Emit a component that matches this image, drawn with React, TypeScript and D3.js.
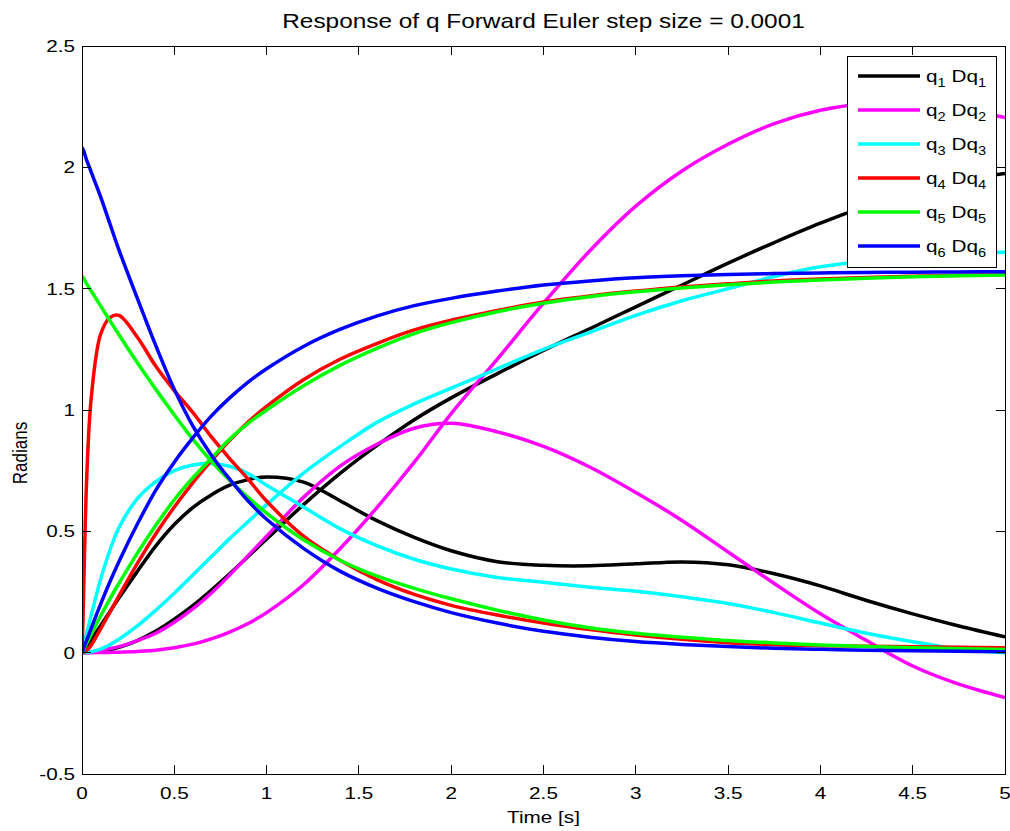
import React from 'react';
import * as d3 from 'd3';

// sample times [s] and the twelve responses
const time = [0, 0.0001, 0.025, 0.05, 0.1, 0.15, 0.2, 0.3, 0.4, 0.5, 0.6, 0.7, 0.8, 0.9, 1.0, 1.2, 1.4, 1.6, 1.8, 2.0, 2.25, 2.5, 2.75, 3.0, 3.25, 3.5, 3.75, 4.0, 4.25, 4.5, 4.75, 5.0];

const q1 = [0, 0, 0.0005, 0.0015, 0.005, 0.012, 0.022, 0.05, 0.089, 0.138, 0.194, 0.257, 0.325, 0.396, 0.468, 0.61, 0.74, 0.855, 0.96, 1.05, 1.15, 1.245, 1.335, 1.425, 1.515, 1.605, 1.69, 1.77, 1.84, 1.9, 1.945, 1.975];
const Dq1 = [0, 0, 0.028, 0.055, 0.11, 0.168, 0.225, 0.335, 0.44, 0.528, 0.598, 0.65, 0.69, 0.713, 0.724, 0.703, 0.625, 0.543, 0.475, 0.42, 0.375, 0.36, 0.358, 0.366, 0.374, 0.362, 0.325, 0.275, 0.215, 0.16, 0.11, 0.065];
const q2 = [0, 0, 0, 0, 0.0005, 0.001, 0.002, 0.005, 0.01, 0.02, 0.035, 0.057, 0.085, 0.12, 0.165, 0.28, 0.43, 0.6, 0.785, 0.985, 1.21, 1.44, 1.655, 1.84, 1.985, 2.095, 2.18, 2.235, 2.262, 2.26, 2.24, 2.205];
const Dq2 = [0, 0, 0.001, 0.003, 0.01, 0.017, 0.025, 0.05, 0.08, 0.125, 0.18, 0.245, 0.32, 0.4, 0.48, 0.64, 0.77, 0.86, 0.925, 0.945, 0.91, 0.85, 0.765, 0.66, 0.545, 0.415, 0.285, 0.16, 0.05, -0.055, -0.13, -0.185];
const q3 = [0, 0, 0.001, 0.004, 0.015, 0.032, 0.055, 0.11, 0.175, 0.245, 0.32, 0.395, 0.47, 0.54, 0.61, 0.74, 0.85, 0.95, 1.025, 1.09, 1.17, 1.25, 1.32, 1.39, 1.45, 1.5, 1.55, 1.59, 1.615, 1.635, 1.645, 1.65];
const Dq3 = [0, 0, 0.08, 0.155, 0.3, 0.42, 0.515, 0.635, 0.705, 0.75, 0.773, 0.78, 0.768, 0.738, 0.69, 0.6, 0.51, 0.44, 0.385, 0.345, 0.31, 0.29, 0.27, 0.253, 0.23, 0.203, 0.165, 0.122, 0.08, 0.045, 0.015, 0];
const q4 = [0, 0, 0.009, 0.031, 0.097, 0.165, 0.234, 0.368, 0.49, 0.6, 0.7, 0.79, 0.875, 0.95, 1.015, 1.125, 1.21, 1.275, 1.33, 1.37, 1.41, 1.445, 1.47, 1.49, 1.507, 1.52, 1.532, 1.54, 1.546, 1.551, 1.555, 1.558];
const Dq4 = [0, 0, 0.71, 1.05, 1.31, 1.38, 1.39, 1.3, 1.18, 1.08, 0.99, 0.89, 0.8, 0.715, 0.625, 0.48, 0.38, 0.3, 0.24, 0.195, 0.155, 0.122, 0.095, 0.073, 0.055, 0.041, 0.033, 0.029, 0.026, 0.024, 0.022, 0.02];
const q5 = [0, 0, 0.038, 0.076, 0.15, 0.22, 0.285, 0.41, 0.525, 0.63, 0.72, 0.8, 0.88, 0.945, 1.0, 1.1, 1.185, 1.255, 1.315, 1.36, 1.405, 1.44, 1.467, 1.487, 1.503, 1.516, 1.527, 1.536, 1.543, 1.549, 1.553, 1.556];
const Dq5 = [0, 1.55, 1.52, 1.49, 1.43, 1.37, 1.31, 1.195, 1.085, 0.98, 0.88, 0.79, 0.71, 0.64, 0.575, 0.465, 0.38, 0.315, 0.265, 0.222, 0.175, 0.135, 0.103, 0.08, 0.064, 0.05, 0.04, 0.032, 0.025, 0.02, 0.016, 0.013];
const q6 = [0, 0.0002, 0.051, 0.101, 0.198, 0.29, 0.375, 0.53, 0.67, 0.785, 0.885, 0.975, 1.05, 1.115, 1.17, 1.262, 1.333, 1.388, 1.43, 1.46, 1.49, 1.515, 1.532, 1.545, 1.553, 1.558, 1.562, 1.565, 1.567, 1.568, 1.569, 1.57];
const Dq6 = [0, 2.08, 2.03, 1.98, 1.88, 1.77, 1.66, 1.46, 1.265, 1.085, 0.935, 0.815, 0.715, 0.625, 0.55, 0.43, 0.335, 0.265, 0.21, 0.165, 0.122, 0.088, 0.064, 0.046, 0.034, 0.025, 0.018, 0.014, 0.01, 0.008, 0.006, 0.004];

const joints = ['1', '2', '3', '4', '5', '6'];
const colors = ['#000000', '#ff00ff', '#00ffff', '#ff0000', '#00ff00', '#0000ff'];
const positions = [q1, q2, q3, q4, q5, q6];
const velocities = [Dq1, Dq2, Dq3, Dq4, Dq5, Dq6];

const xTicks = [0, 0.5, 1, 1.5, 2, 2.5, 3, 3.5, 4, 4.5, 5];
const yTicks = [-0.5, 0, 0.5, 1, 1.5, 2, 2.5];

const title = 'Response of q Forward Euler step size = 0.0001';
const xLabel = 'Time [s]';
const yLabel = 'Radians';

const W = 1010;
const H = 831;
const plot = {left: 82, right: 1005, top: 46, bottom: 774};
const font = '"Liberation Sans", Arial, Helvetica, sans-serif';
const SX = 1.22; // the original figure's text is a bit wider than Arial

function Txt(props: {x: number, y: number, size: number, anchor?: string, rotate?: number, children: any}) {
    const {x, y, size, anchor = 'start', rotate, children} = props;
    const tf = rotate
        ? `translate(${x},${y}) rotate(${rotate}) scale(1,${SX})`
        : `translate(${x},${y}) scale(${SX},1)`;
    return (
        <g transform={tf}>
            <text x={0} y={0} fontSize={size} fontFamily={font} textAnchor={anchor} fill="#000">
                {children}
            </text>
        </g>
    );
}

export default function App() {
    const x = d3.scaleLinear().domain([0, 5]).range([plot.left, plot.right]);
    const y = d3.scaleLinear().domain([-0.5, 2.5]).range([plot.bottom, plot.top]);

    const line = d3.line<number>()
        .x((_, i) => x(time[i]))
        .y((d) => y(d))
        .curve(d3.curveCatmullRom.alpha(0.5));

    const tickLen = 9;
    const lw = 3.5;

    // legend layout
    const leg = {x0: 847, y0: 56, x1: 996, y1: 267};
    const rowY = (i: number) => 76 + i * 34;

    return (
        <svg width={W} height={H} style={{position: 'absolute', left: 0, top: 0, background: '#fff'}}>
            <defs>
                <clipPath id="plotclip">
                    <rect x={plot.left} y={plot.top} width={plot.right - plot.left} height={plot.bottom - plot.top}/>
                </clipPath>
            </defs>
            <rect x={0} y={0} width={W} height={H} fill="#fff"/>

            {/* curves: q_i then Dq_i for each joint */}
            <g clipPath="url(#plotclip)" fill="none" strokeLinejoin="round" strokeLinecap="butt">
                {joints.map((j, i) => (
                    <g key={j}>
                        <path d={line(positions[i]) || ''} stroke={colors[i]} strokeWidth={lw}/>
                        <path d={line(velocities[i]) || ''} stroke={colors[i]} strokeWidth={lw}/>
                    </g>
                ))}
            </g>

            {/* axes box and ticks */}
            <g stroke="#000" strokeWidth={1} shapeRendering="crispEdges">
                <rect x={plot.left} y={plot.top} width={plot.right - plot.left} height={plot.bottom - plot.top} fill="none"/>
                {xTicks.map((t) => (
                    <g key={'xt' + t}>
                        <line x1={x(t)} x2={x(t)} y1={plot.bottom} y2={plot.bottom - tickLen}/>
                        <line x1={x(t)} x2={x(t)} y1={plot.top} y2={plot.top + tickLen}/>
                    </g>
                ))}
                {yTicks.map((t) => (
                    <g key={'yt' + t}>
                        <line x1={plot.left} x2={plot.left + tickLen} y1={y(t)} y2={y(t)}/>
                        <line x1={plot.right} x2={plot.right - tickLen} y1={y(t)} y2={y(t)}/>
                    </g>
                ))}
            </g>

            {xTicks.map((t) => (
                <Txt key={'xl' + t} x={x(t)} y={plot.bottom + 25} size={17} anchor="middle">{String(t)}</Txt>
            ))}
            {yTicks.map((t) => (
                <Txt key={'yl' + t} x={plot.left - 7} y={y(t) + 6} size={17} anchor="end">{String(t)}</Txt>
            ))}

            <Txt x={(plot.left + plot.right) / 2} y={28} size={20} anchor="middle">{title}</Txt>
            <Txt x={(plot.left + plot.right) / 2} y={823} size={17} anchor="middle">{xLabel}</Txt>
            <Txt x={27} y={453} size={17} anchor="middle" rotate={-90}>{yLabel}</Txt>

            {/* legend */}
            <rect x={leg.x0} y={leg.y0} width={leg.x1 - leg.x0} height={leg.y1 - leg.y0}
                  fill="#fff" stroke="#000" strokeWidth={1} shapeRendering="crispEdges"/>
            {joints.map((j, i) => (
                <g key={'lg' + j}>
                    <line x1={858} x2={920} y1={rowY(i)} y2={rowY(i)} stroke={colors[i]} strokeWidth={lw}/>
                    <Txt x={926} y={rowY(i) + 6} size={17}>
                        <tspan>q</tspan>
                        <tspan fontSize={12} dy={5}>{j}</tspan>
                        <tspan dy={-5}> Dq</tspan>
                        <tspan fontSize={12} dy={5}>{j}</tspan>
                    </Txt>
                </g>
            ))}
        </svg>
    );
}
